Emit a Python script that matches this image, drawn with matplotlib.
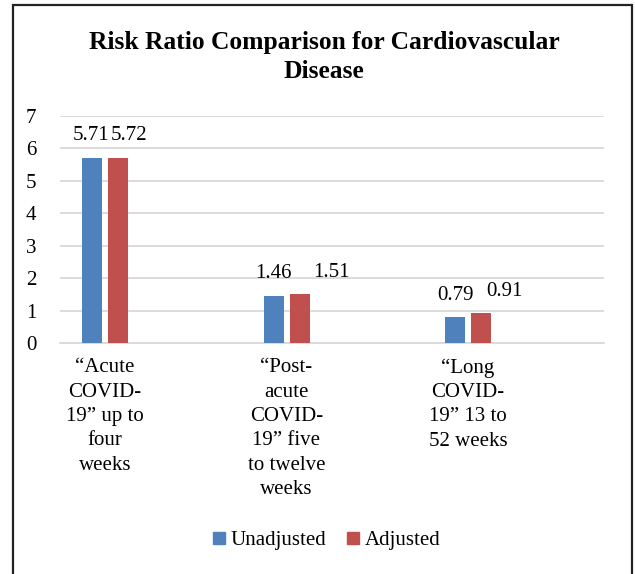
import matplotlib
matplotlib.use("Agg")
import matplotlib.pyplot as plt
from matplotlib.patches import Rectangle, Patch

categories = ["\u201cAcute\nCOVID-\n19\u201d up to\nfour\nweeks",
              "\u201cPost-\nacute\nCOVID-\n19\u201d five\nto twelve\nweeks",
              "\u201cLong\nCOVID-\n19\u201d 13 to\n52 weeks"]
unadjusted = [5.71, 1.46, 0.79]
adjusted = [5.72, 1.51, 0.91]

# label x shifts in pixels (Excel moved some labels)
shift_unadj = [-1, 0, 0]
shift_adj = [11, 32, 23]

blue = "#4F81BD"
red = "#C0504D"

plt.rcParams['font.family'] = ['Liberation Serif', 'DejaVu Serif']

fig = plt.figure(figsize=(6.35, 5.74), dpi=100)
W, H = 635, 574
ax = fig.add_axes([60 / W, 1 - 343 / H, (604 - 60) / W, (343 - 116) / H])

x = list(range(len(categories)))
unit = 181.5
off = 13 / unit
bw = 20 / unit
ax.bar([i - off for i in x], unadjusted, bw, color=blue, zorder=3)
ax.bar([i + off for i in x], adjusted, bw, color=red, zorder=3)

px2pt = 72 / 100
for i in x:
    ax.annotate(f"{unadjusted[i]:.2f}", (i - off, unadjusted[i]),
                xytext=(shift_unadj[i] * px2pt, 22 * px2pt), textcoords="offset points",
                ha="center", va="center", fontsize=15)
    ax.annotate(f"{adjusted[i]:.2f}", (i + off, adjusted[i]),
                xytext=(shift_adj[i] * px2pt, 22 * px2pt), textcoords="offset points",
                ha="center", va="center", fontsize=15)

ax.set_xlim((60 - 105) / unit, (604 - 105) / unit)
ax.set_ylim(0, 7)
ax.set_yticks(range(8))
ax.set_yticklabels([str(v) for v in range(8)], fontsize=15)
ax.set_xticks(x)
ax.set_xticklabels(categories, fontsize=15, linespacing=1.38, va="top")
ax.tick_params(axis="both", length=0)
ax.tick_params(axis="y", pad=17)
ax.tick_params(axis="x", pad=11)
ax.grid(axis="y", color="#D9D9D9", linewidth=1.3, zorder=0)
for s in ["top", "right", "left"]:
    ax.spines[s].set_visible(False)
ax.spines["bottom"].set_color("#D9D9D9")
ax.spines["bottom"].set_linewidth(1.3)

fig.text(324 / W, 1 - 57 / H, "Risk Ratio Comparison for Cardiovascular\nDisease",
         ha="center", va="center", fontsize=18.4, fontweight="bold", linespacing=1.3)

handles = [Patch(color=blue, label="Unadjusted"), Patch(color=red, label="Adjusted")]
fig.legend(handles=handles, loc="center", bbox_to_anchor=(327 / W, 1 - 541 / H),
           ncol=2, frameon=False, fontsize=15, handlelength=0.55, handleheight=0.55,
           handletextpad=0.3, columnspacing=1.0)

fig.patches.append(Rectangle((13 / W, -0.05), (632 - 13) / W, 1.05 - 5 / H,
                             transform=fig.transFigure, fill=False,
                             edgecolor="#222222", linewidth=1.6))

fig.savefig("out.png", dpi=100)
